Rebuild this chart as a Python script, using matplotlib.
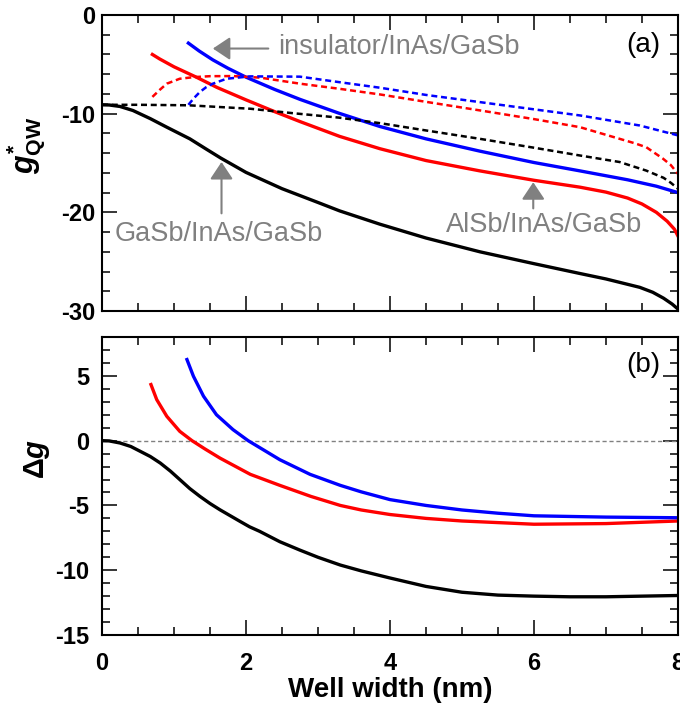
import matplotlib
matplotlib.use("Agg")
import matplotlib.pyplot as plt
from matplotlib.ticker import MultipleLocator

plt.rcParams["font.family"] = ["Liberation Sans", "DejaVu Sans"]
plt.rcParams["mathtext.fontset"] = "custom"
plt.rcParams["mathtext.rm"] = "Liberation Sans:bold"
plt.rcParams["mathtext.it"] = "Liberation Sans:bold:italic"
plt.rcParams["mathtext.bf"] = "Liberation Sans:bold"

# ---- panel (a): g*_QW vs well width (solid = g*, dashed = reference) ----
gasb_x = [0, 0.1, 0.25, 0.43, 0.67, 0.9, 1.22, 1.45, 1.65, 2.0, 2.5, 3.0, 3.3,
          3.86, 4.5, 5.25, 6.0, 6.64, 7.0, 7.47, 7.65, 7.8, 7.92, 8.0]
gasb_y = [-9.1, -9.12, -9.27, -9.68, -10.5, -11.37, -12.55, -13.6, -14.5, -15.95,
          -17.6, -19.0, -19.85, -21.2, -22.6, -24.0, -25.2, -26.2, -26.75, -27.6,
          -28.1, -28.7, -29.3, -29.8]
gasb_dash_x = [0, 0.5, 1.2, 2.06, 2.65, 3.29, 3.86, 4.5, 5.25, 6.0, 6.64, 7.19,
               7.56, 7.8, 7.9, 8.0]
gasb_dash_y = [-9.1, -9.1, -9.15, -9.5, -9.95, -10.4, -10.96, -11.7, -12.55, -13.45,
               -14.24, -14.9, -15.77, -16.5, -17.0, -17.6]

alsb_x = [0.7, 0.8, 1.0, 1.31, 1.6, 2.0, 2.4, 2.75, 3.3, 3.86, 4.5, 5.25, 6.0,
          6.64, 7.0, 7.3, 7.5, 7.7, 7.85, 7.95, 8.0]
alsb_y = [-4.0, -4.45, -5.25, -6.3, -7.35, -8.6, -9.8, -10.8, -12.3, -13.55, -14.75,
          -15.8, -16.75, -17.45, -17.95, -18.55, -19.15, -20.0, -20.9, -21.7, -22.4]
alsb_dash_x = [0.7, 0.8, 0.9, 1.08, 1.27, 1.5, 1.82, 2.2, 2.75, 3.29, 3.86, 4.5,
               5.25, 6.0, 6.64, 7.19, 7.4, 7.56, 7.79, 7.9, 8.0]
alsb_dash_y = [-8.3, -7.6, -6.96, -6.46, -6.3, -6.2, -6.19, -6.35, -6.96, -7.47,
               -8.05, -8.8, -9.67, -10.55, -11.37, -12.55, -13.0, -13.4, -14.55,
               -15.2, -16.1]

ins_x = [1.2, 1.35, 1.54, 1.75, 2.0, 2.4, 2.75, 3.29, 3.86, 4.5, 5.25, 6.0, 6.64,
         7.3, 7.7, 8.0]
ins_y = [-2.85, -3.65, -4.55, -5.4, -6.3, -7.55, -8.55, -9.95, -11.3, -12.55, -13.8,
         -14.95, -15.8, -16.7, -17.35, -18.0]
ins_dash_x = [1.2, 1.28, 1.36, 1.45, 1.54, 1.73, 2.06, 2.75, 3.29, 3.86, 4.5,
              5.25, 6.0, 6.64, 7.47, 8.0]
ins_dash_y = [-9.1, -8.4, -7.8, -7.3, -6.96, -6.46, -6.22, -6.25, -6.8, -7.37, -8.1,
              -8.83, -9.56, -10.18, -11.2, -12.2]

# ---- panel (b): delta g vs well width ----
dg_gasb_x = [0, 0.1, 0.25, 0.4, 0.53, 0.67, 0.81, 0.95, 1.08, 1.22, 1.36, 1.5,
             1.64, 1.92, 2.05, 2.19, 2.47, 2.75, 3.0, 3.31, 3.6, 4.0, 4.5, 5.0,
             5.5, 6.0, 6.5, 7.0, 7.5, 8.0]
dg_gasb_y = [0, -0.02, -0.18, -0.45, -0.82, -1.22, -1.73, -2.35, -3.0, -3.7, -4.3,
             -4.85, -5.34, -6.24, -6.65, -7.0, -7.8, -8.45, -9.0, -9.6, -10.05,
             -10.6, -11.25, -11.7, -11.92, -12.0, -12.05, -12.05, -12.0, -11.95]
dg_alsb_x = [0.68, 0.76, 0.9, 1.08, 1.25, 1.43, 1.64, 2.06, 2.47, 2.9, 3.31, 3.6,
             4.0, 4.5, 5.0, 6.0, 7.0, 8.0]
dg_alsb_y = [4.33, 3.17, 1.88, 0.72, 0, -0.64, -1.35, -2.6, -3.45, -4.3, -5.0,
             -5.35, -5.7, -6.0, -6.2, -6.45, -6.4, -6.2]
dg_ins_x = [1.18, 1.27, 1.41, 1.59, 1.82, 2.03, 2.47, 2.89, 3.31, 3.6, 4.0, 4.5,
            5.0, 5.5, 6.0, 7.0, 8.0]
dg_ins_y = [6.26, 4.97, 3.43, 2.0, 0.85, 0, -1.47, -2.6, -3.45, -3.95, -4.55, -5.0,
            -5.35, -5.6, -5.8, -5.9, -5.95]

SOLID_LW = 2.4
DASH_LW = 1.8
DASHES = (2.4, 1.5)
GRAY = "#808080"
TICK_FONT = dict(fontsize=17, fontweight="bold")

fig = plt.figure(figsize=(6.8, 7.04), dpi=100)
ax1 = fig.add_axes([0.15, 0.5582, 0.847, 0.4205])
ax2 = fig.add_axes([0.15, 0.098, 0.847, 0.4233])

ax1.plot(gasb_x, gasb_y, color="black", lw=SOLID_LW)
ax1.plot(alsb_x, alsb_y, color="#ff0000", lw=SOLID_LW)
ax1.plot(ins_x, ins_y, color="#0000ff", lw=SOLID_LW)
ax1.plot(gasb_dash_x, gasb_dash_y, color="black", lw=DASH_LW, dashes=DASHES)
ax1.plot(alsb_dash_x, alsb_dash_y, color="#ff0000", lw=DASH_LW, dashes=DASHES)
ax1.plot(ins_dash_x, ins_dash_y, color="#0000ff", lw=DASH_LW, dashes=DASHES)

ax2.axhline(0, color=GRAY, lw=1.0, dashes=(3, 2))
ax2.plot(dg_gasb_x, dg_gasb_y, color="black", lw=SOLID_LW)
ax2.plot(dg_alsb_x, dg_alsb_y, color="#ff0000", lw=SOLID_LW)
ax2.plot(dg_ins_x, dg_ins_y, color="#0000ff", lw=SOLID_LW)

for ax in (ax1, ax2):
    ax.set_xlim(0, 8)
    ax.xaxis.set_major_locator(MultipleLocator(2))
    ax.xaxis.set_minor_locator(MultipleLocator(0.5))
    ax.tick_params(which="both", direction="in", top=True, right=True, width=1.1)
    ax.tick_params(which="major", length=10.5)
    ax.tick_params(which="minor", length=5.5)
    for spine in ax.spines.values():
        spine.set_linewidth(1.5)

ax1.set_ylim(-30, 0)
ax1.yaxis.set_minor_locator(MultipleLocator(2))
ax1.set_yticks([0, -10, -20, -30])
ax1.set_yticklabels(["0", "-10", "-20", "-30"], **TICK_FONT)
ax1.tick_params(axis="y", which="major", pad=5)
ax1.tick_params(labelbottom=False)

ax2.set_ylim(-15, 8)
ax2.yaxis.set_minor_locator(MultipleLocator(1))
ax2.set_yticks([5, 0, -5, -10, -15])
ax2.set_yticklabels(["5", "0", "-5", "-10", "-15"], **TICK_FONT)
ax2.tick_params(axis="y", which="major", pad=9)
ax2.set_xticks([0, 2, 4, 6, 8])
ax2.set_xticklabels(["0", "2", "4", "6", "8"], **TICK_FONT)
ax2.tick_params(axis="x", which="major", pad=12)

ax1.set_ylabel(r"$g^{*}_{\mathrm{QW}}$", fontsize=22)
ax1.yaxis.set_label_coords(-0.095, 0.56)
ax2.set_ylabel(r"$\Delta g$", fontsize=21)
ax2.yaxis.set_label_coords(-0.087, 0.59)
ax2.set_xlabel("Well width (nm)", fontsize=20, fontweight="bold", labelpad=2)

ax1.text(0.94, 0.898, "(a)", transform=ax1.transAxes, fontsize=20, ha="center", va="center")
ax2.text(0.94, 0.906, "(b)", transform=ax2.transAxes, fontsize=20, ha="center", va="center")

arrow = dict(arrowstyle="-|>,head_length=0.75,head_width=0.5", color=GRAY, lw=1.5,
             mutation_scale=14, shrinkA=0, shrinkB=0)
ax1.annotate("", xy=(1.54, -3.4), xytext=(2.31, -3.4), arrowprops=arrow)
ax1.text(2.44, -3.92, "insulator/InAs/GaSb", color=GRAY, fontsize=19.5, va="baseline")
ax1.annotate("", xy=(1.66, -14.9), xytext=(1.66, -20.1), arrowprops=arrow)
ax1.text(1.62, -22.9, "GaSb/InAs/GaSb", color=GRAY, fontsize=19.5, ha="center", va="baseline")
ax1.annotate("", xy=(5.99, -16.95), xytext=(5.99, -19.6), arrowprops=arrow)
ax1.text(6.14, -22.0, "AlSb/InAs/GaSb", color=GRAY, fontsize=19.5, ha="center", va="baseline")

fig.savefig("out.png", dpi=100)
